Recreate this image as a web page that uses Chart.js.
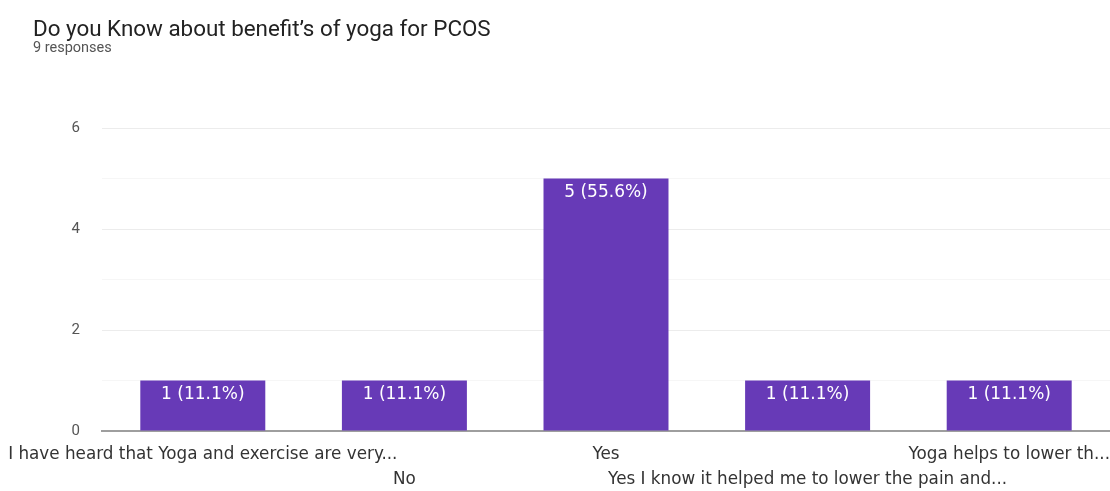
<!DOCTYPE html>
<html>
<head>
<meta charset="utf-8">
<script src="https://cdn.jsdelivr.net/npm/chart.js@4.4.0/dist/chart.umd.min.js"></script>
<style>
  html, body { margin: 0; padding: 0; background: #fff; }
  #wrap { position: relative; width: 1110px; height: 491px; overflow: hidden; font-family: Roboto, "Noto Sans", sans-serif; }
  #title { position: absolute; left: 33px; top: 15px; font-size: 22.4px; color: #222; white-space: nowrap; }
  #sub { position: absolute; left: 33px; top: 39px; font-size: 14.5px; color: #555; }
  #chart { position: absolute; left: 0; top: 0; }
</style>
</head>
<body>
<div id="wrap">
  <canvas id="chart" width="1110" height="491"></canvas>
  <div id="title">Do you Know about benefit’s of yoga for PCOS</div>
  <div id="sub">9 responses</div>
</div>
<script>
// answers, counts and axis ticks
const answers = [
  'I have heard that Yoga and exercise are very...',
  'No',
  'Yes',
  'Yes I know it helped me to lower the pain and...',
  'Yoga helps to lower th...'
];
const counts = [1, 1, 5, 1, 1];
const yTicks = [0, 2, 4, 6];
const totalResponses = 9;

const barColor = '#673ab7';

// white "n (pct%)" label near the top of each bar
const barLabels = {
  id: 'barLabels',
  afterDatasetsDraw(chart) {
    const ctx = chart.ctx;
    const meta = chart.getDatasetMeta(0);
    ctx.save();
    ctx.fillStyle = '#fff';
    ctx.font = '17px "DejaVu Sans", sans-serif';
    ctx.textAlign = 'center';
    ctx.textBaseline = 'middle';
    meta.data.forEach((bar, i) => {
      const v = counts[i];
      const pct = (v / totalResponses * 100).toFixed(1);
      ctx.fillText(`${v} (${pct}%)`, bar.x, bar.y + 14);
    });
    ctx.restore();
  }
};

new Chart(document.getElementById('chart'), {
  type: 'bar',
  data: {
    // odd categories go on the second label row
    labels: answers.map((a, i) => i % 2 ? ['', a] : a),
    datasets: [{
      data: counts,
      backgroundColor: barColor,
      borderWidth: 0,
      categoryPercentage: 0.62,
      barPercentage: 1
    }]
  },
  options: {
    responsive: false,
    animation: false,
    layout: { padding: { top: 128, left: 0, right: 0, bottom: 0 } },
    plugins: { legend: { display: false }, tooltip: { enabled: false } },
    scales: {
      x: {
        grid: { display: false },
        border: { color: '#9e9e9e', width: 2 },
        ticks: {
          autoSkip: false, maxRotation: 0, minRotation: 0,
          color: '#333', padding: 3,
          font: { family: 'DejaVu Sans', size: 16.8, lineHeight: 1.49 }
        },
        afterFit(scale) {
          scale.paddingLeft = 0; scale.paddingRight = 0;
          scale.height = 60;
        }
      },
      y: {
        min: 0, max: 6,
        afterFit(scale) { scale.width = 102; },
        border: { display: false },
        grid: {
          color: c => (c.tick && yTicks.includes(c.tick.value)) ? '#ececec' : '#f6f6f6',
          drawTicks: false
        },
        ticks: {
          stepSize: 1, padding: 22, color: '#555',
          font: { family: 'Roboto', size: 15 },
          callback: v => yTicks.includes(v) ? v : ''
        }
      }
    }
  },
  plugins: [barLabels]
});
</script>
</body>
</html>
